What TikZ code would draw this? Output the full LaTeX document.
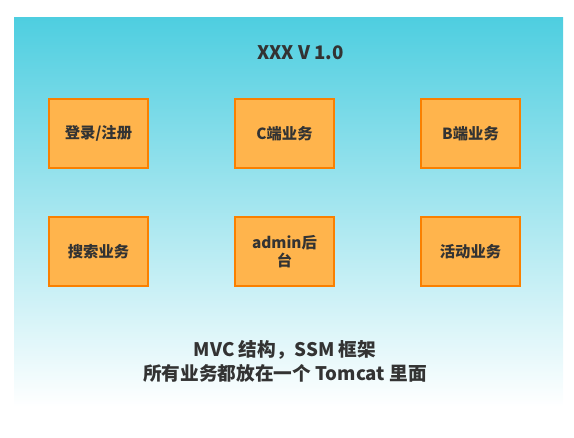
\documentclass[tikz,border=0pt]{standalone}
\usepackage{fontspec}
\setmainfont{Noto Sans CJK SC}
\definecolor{bgtop}{RGB}{78,206,224}
\definecolor{boxfill}{RGB}{255,180,76}
\definecolor{boxline}{RGB}{250,128,0}
\definecolor{txt}{RGB}{51,51,51}
\begin{document}
\begin{tikzpicture}[x=0.75pt,y=0.75pt,yscale=-1,xscale=1,
  biz/.style={draw=boxline,fill=boxfill,line width=1.5pt,minimum width=74pt,minimum height=52pt,inner sep=0.75pt,align=center,text=txt,font=\fontsize{11.5}{14}\selectfont\bfseries},
  label/.style={inner sep=0.75pt,align=center,text=txt}]
\useasboundingbox (0,0) rectangle (574,437);

%Shape: Background [id:bg]
\shade [top color=bgtop,bottom color=white] (14,17) rectangle (563,407) ;

% Text Node
\node (title) at (300.5,53) [label,font=\fontsize{14}{16}\selectfont\bfseries] {XXX V 1.0};

%Shape: Rectangle [id:login]
\node (login) at (98.5,133.5) [biz] {登录/注册};
%Shape: Rectangle [id:cside]
\node (cside) at (284.5,133.5) [biz] {C端业务};
%Shape: Rectangle [id:bside]
\node (bside) at (470.5,133.5) [biz] {B端业务};
%Shape: Rectangle [id:search]
\node (search) at (98.5,251.5) [biz] {搜索业务};
%Shape: Rectangle [id:admin]
\node (admin) at (284.5,251.5) [biz] {admin后\\台};
%Shape: Rectangle [id:event]
\node (event) at (470.5,251.5) [biz] {活动业务};

% Text Node
\node (arch) at (285,361) [label,font=\fontsize{14}{18}\selectfont\bfseries] {MVC 结构，SSM 框架\\所有业务都放在一个 Tomcat 里面};

\end{tikzpicture}
\end{document}
